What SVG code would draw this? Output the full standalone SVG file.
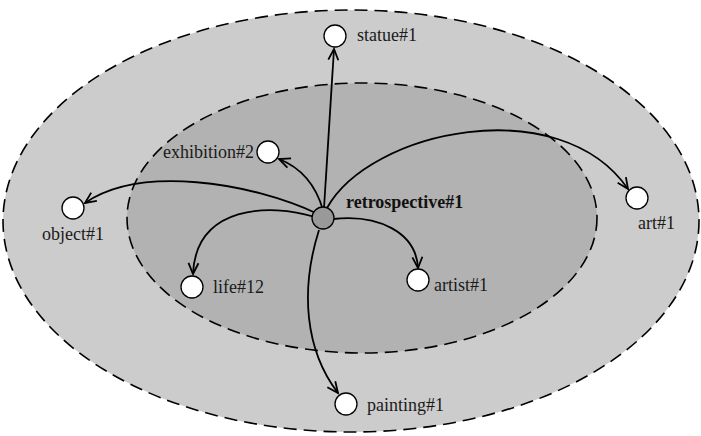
<svg xmlns="http://www.w3.org/2000/svg" width="701" height="436" viewBox="0 0 701 436">
  <style>
    .zone { stroke: #000; stroke-width: 1.6; stroke-dasharray: 13 7; }
    .node { fill: #fff; stroke: #000; stroke-width: 1.3; }
    .hub { fill: #999; stroke: #000; stroke-width: 1.3; }
    .edge { fill: none; stroke: #000; stroke-width: 1.8; marker-end: url(#arrow); }
    .label { font-family: "Liberation Serif", "Times New Roman", serif; font-size: 18px; fill: #1a1a1a; }
    .bold { font-weight: bold; fill: #111; }
  </style>
  <defs>
    <marker id="arrow" markerUnits="userSpaceOnUse" markerWidth="14" markerHeight="14" viewBox="-12 -7 14 14" refX="0" refY="0" orient="auto">
      <path d="M-11,-5 L0,0 L-11,5" fill="none" stroke="#000" stroke-width="1.8"/>
    </marker>
  </defs>

  <rect width="701" height="436" fill="#fff"/>

  <!-- nested neighbourhood zones -->
  <ellipse class="zone" cx="351" cy="221" rx="348" ry="211" fill="#cccccc"/>
  <ellipse class="zone" cx="362" cy="218" rx="235" ry="135" fill="#b2b2b2"/>

  <g id="connectors">
    <path class="edge" d="M324,208 L334,49"/>
    <path class="edge" d="M323,210 Q312,172 279,159"/>
    <path class="edge" d="M318,214 C250,182 140,165 85,203"/>
    <path class="edge" d="M327,208 C370,130 560,90 628,189"/>
    <path class="edge" d="M315,217 C270,203 196,205 193,274"/>
    <path class="edge" d="M333,219 C378,214 416,232 418,268"/>
    <path class="edge" d="M319,230 C300,290 305,350 338,393"/>
  </g>

  <g id="statue">
    <circle class="node" cx="335" cy="36" r="11"/>
    <text class="label" x="357" y="41">statue#1</text>
  </g>
  <g id="exhibition">
    <circle class="node" cx="268" cy="152" r="11"/>
    <text class="label" x="254" y="158" text-anchor="end">exhibition#2</text>
  </g>
  <g id="object">
    <circle class="node" cx="73" cy="208" r="11"/>
    <text class="label" x="73" y="240" text-anchor="middle">object#1</text>
  </g>
  <g id="art">
    <circle class="node" cx="637" cy="198" r="11"/>
    <text class="label" x="638" y="229">art#1</text>
  </g>
  <g id="life">
    <circle class="node" cx="192" cy="287" r="11"/>
    <text class="label" x="213" y="293">life#12</text>
  </g>
  <g id="artist">
    <circle class="node" cx="418" cy="280" r="11"/>
    <text class="label" x="434" y="291">artist#1</text>
  </g>
  <g id="painting">
    <circle class="node" cx="346" cy="404" r="11"/>
    <text class="label" x="367" y="411">painting#1</text>
  </g>
  <g id="retrospective">
    <circle class="hub" cx="323" cy="218" r="11"/>
    <text class="label bold" x="346" y="208">retrospective#1</text>
  </g>
</svg>
